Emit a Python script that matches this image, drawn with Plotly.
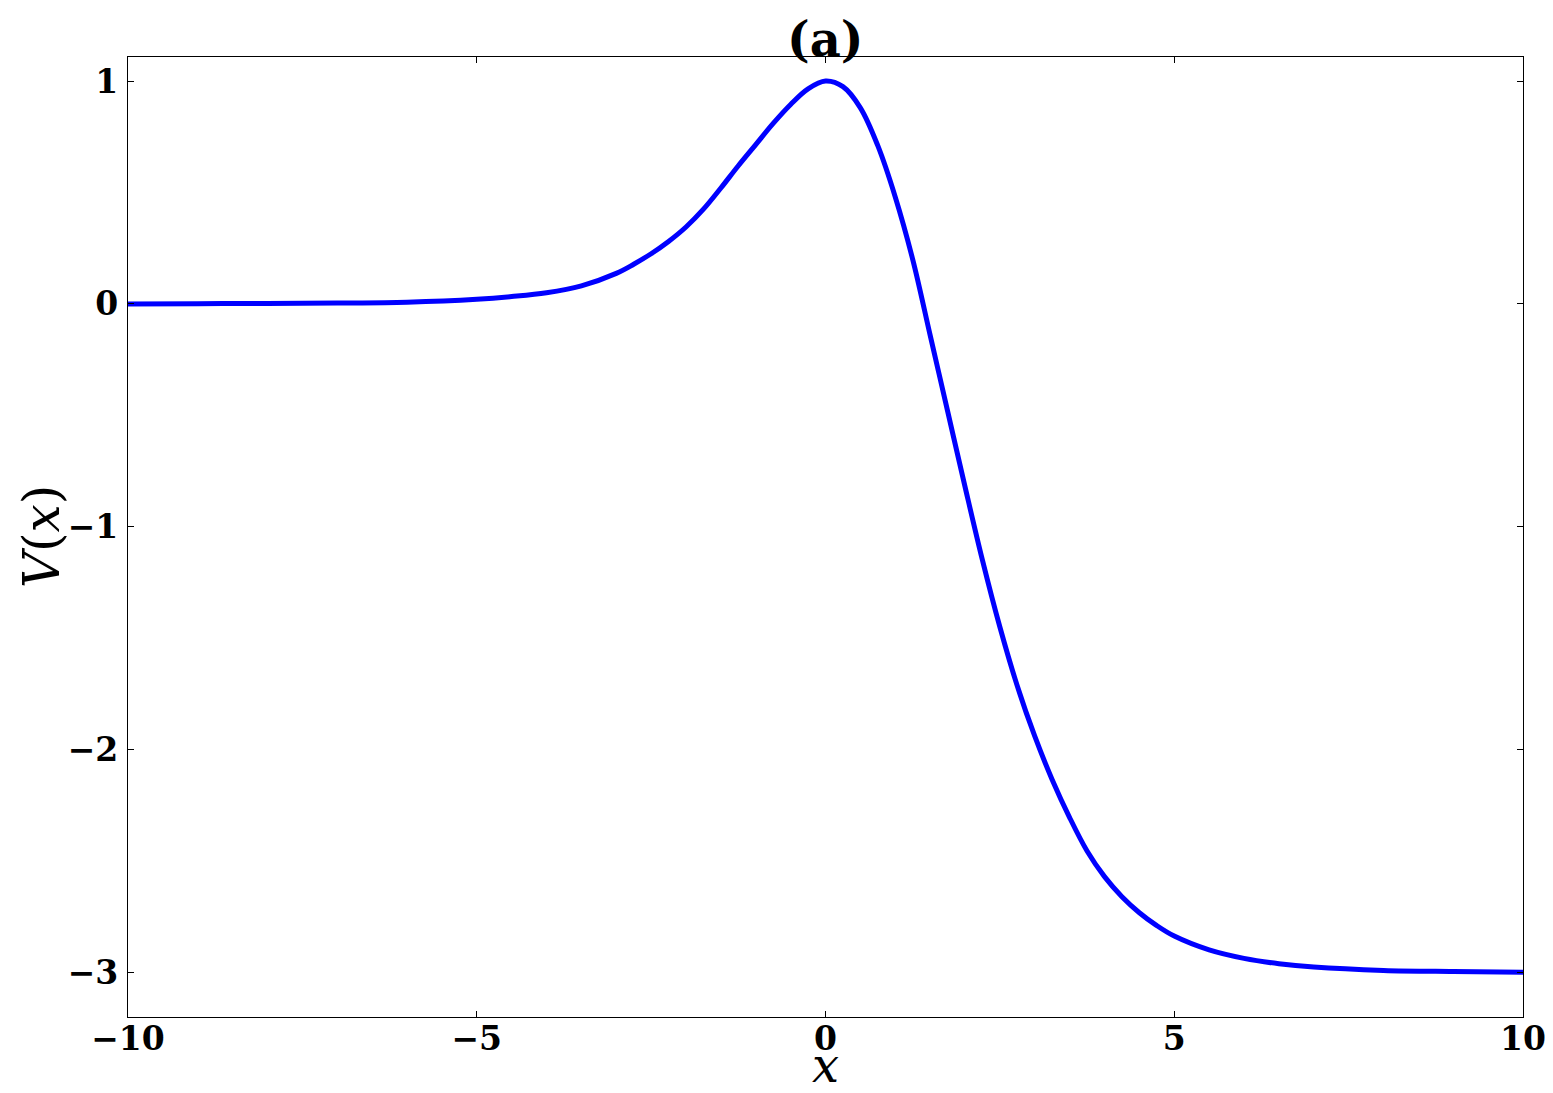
import plotly.graph_objects as go

x_vals = [-10, -9, -8, -7, -6, -5, -4.5, -4, -3.5, -3, -2.75, -2.5, -2.25, -2, -1.75, -1.5,
          -1.25, -1, -0.75, -0.5, -0.25, 0, 0.25, 0.5, 0.75, 1.0, 1.25, 1.5, 1.75, 2.0,
          2.25, 2.5, 2.75, 3.0, 3.25, 3.5, 3.75, 4.0, 4.25, 4.5, 4.75, 5.0, 5.5, 6.0, 6.5,
          7.0, 8.0, 9.0, 10]
v_vals = [0.000, 0.001, 0.002, 0.004, 0.008, 0.021, 0.033, 0.050, 0.081, 0.137, 0.178,
          0.225, 0.280, 0.345, 0.425, 0.520, 0.620, 0.715, 0.810, 0.895, 0.965, 1.000,
          0.975, 0.880, 0.710, 0.480, 0.200, -0.140, -0.480, -0.820, -1.150, -1.450,
          -1.715, -1.940, -2.135, -2.305, -2.455, -2.570, -2.660, -2.732, -2.790, -2.837,
          -2.899, -2.937, -2.961, -2.976, -2.991, -2.996, -2.999]

x_ticks = [-10, -5, 0, 5, 10]
y_ticks = [1, 0, -1, -2, -3]


def fmt(t):
    return ("\u2212" + str(-t)) if t < 0 else str(t)


fig = go.Figure()
fig.add_trace(go.Scatter(x=x_vals, y=v_vals, mode="lines",
                         line=dict(color="#0000ff", width=5, shape="spline", smoothing=1.0),
                         showlegend=False, hoverinfo="skip"))

tickfont = dict(family="DejaVu Serif", size=33, color="black", weight="bold")
axis_common = dict(showline=True, linecolor="black", linewidth=1.3, mirror="ticks",
                   ticks="inside", ticklen=6, tickwidth=1, tickcolor="black",
                   showgrid=False, zeroline=False, tickfont=tickfont, automargin=False)

fig.update_layout(
    width=1545, height=1085,
    margin=dict(l=120, r=30, t=49, b=76),
    paper_bgcolor="white", plot_bgcolor="white",
    xaxis=dict(range=[-10, 10], tickvals=x_ticks, ticktext=[fmt(t) for t in x_ticks],
               ticklabelstandoff=-8, **axis_common),
    yaxis=dict(range=[-3.2, 1.108], tickvals=y_ticks, ticktext=[fmt(t) for t in y_ticks],
               ticklabelstandoff=2, **axis_common),
    annotations=[
        dict(text="<b>(a)</b>", xref="paper", yref="paper", x=0.5, y=1,
             xanchor="center", yanchor="middle", yshift=18, showarrow=False,
             font=dict(family="DejaVu Serif", size=48, color="black")),
        dict(text="<i>x</i>", xref="paper", yref="paper", x=0.5, y=0,
             xanchor="center", yanchor="middle", yshift=-48, showarrow=False,
             font=dict(family="DejaVu Serif", size=48, color="black")),
        dict(text="<i>V</i>(<i>x</i>)", xref="paper", yref="paper", x=0, y=0.5,
             xanchor="center", yanchor="middle", xshift=-86, textangle=-90, showarrow=False,
             font=dict(family="DejaVu Serif", size=50, color="black")),
    ],
)

fig.write_html("out.html")
